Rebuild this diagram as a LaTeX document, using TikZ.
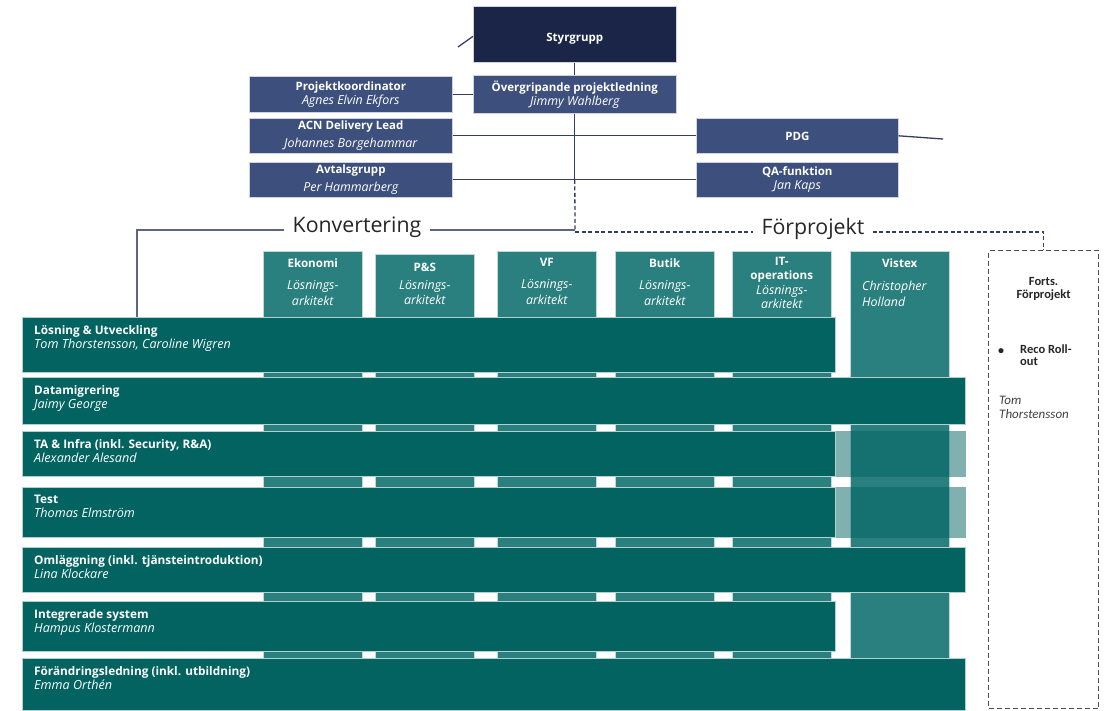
\documentclass[tikz,border=0pt]{standalone}
\usepackage{fontspec}
\setmainfont{Open Sans}
\newfontfamily\notefont{Carlito}
\usetikzlibrary{positioning}
\definecolor{styrnavy}{RGB}{27, 37, 71}
\definecolor{orgnavy}{RGB}{61, 79, 124}
\definecolor{rowteal}{RGB}{2, 99, 97}
\definecolor{colteal}{RGB}{42, 128, 126}
\definecolor{linenavy}{RGB}{52, 62, 96}
\newcommand{\pname}[1]{{\fontsize{12.4}{13}\selectfont\mdseries\itshape #1}}

\begin{document}
\begin{tikzpicture}[x=1pt, y=-1pt,
      orgbox/.style={fill=orgnavy, draw=white!75!orgnavy, line width=0.6pt,
                  minimum width=203pt, minimum height=36pt,
                  inner sep=0pt, anchor=north west, text=white, align=center,
                  font=\fontsize{11.5}{14}\selectfont\bfseries},
      colbox/.style={fill=colteal, draw=white!70!colteal, line width=0.5pt,
                  minimum width=99pt, inner sep=0pt, anchor=north west},
      rowbox/.style={fill=rowteal, draw=white!70!rowteal, line width=0.5pt,
                  inner sep=0pt, anchor=north west},
      coltxt/.style={text=white, align=center, inner sep=0pt, anchor=north,
                  font=\fontsize{11.6}{15.5}\selectfont\bfseries},
      rowtxt/.style={text=white, align=left, inner sep=0pt, anchor=north west,
                  font=\fontsize{11.8}{14}\selectfont\bfseries},
      notetxt/.style={inner sep=0pt, text=black!85, align=left, anchor=north west},
      orgline/.style={draw=linenavy, line width=1.3pt},
      orgdash/.style={draw=linenavy, line width=1.3pt, dash pattern=on 4pt off 2.5pt},
      phase/.style={fill=white, inner xsep=8pt, inner ysep=2pt, text=black!85,
                  font=\fontsize{21.3}{23}\selectfont},
    ]
    \useasboundingbox (0,0) rectangle (1107,710);

    %% top of the organisation
    \node[orgbox, fill=styrnavy, minimum height=56pt, text height=18pt, text depth=3pt]
      (styr) at (473,6) {Styrgrupp};
    \node[orgbox, minimum height=38pt] (overg) at (473,75)
      {Övergripande projektledning\\\pname{Jimmy Wahlberg}};
    \node[orgbox] (koord) at (249,76) {Projektkoordinator\\\pname{Agnes Elvin Ekfors}};
    \node[orgbox, minimum height=35pt] (acn) at (249,118)
      {ACN Delivery Lead\\[4pt]\pname{Johannes Borgehammar}};
    \node[orgbox, minimum height=35pt] (avtal) at (249,162)
      {Avtalsgrupp\\[4pt]\pname{Per Hammarberg}};
    \node[orgbox, minimum width=202pt, minimum height=35pt, text height=10pt, text depth=0pt]
      (pdg) at (696,118) {PDG};
    \node[orgbox, minimum width=202pt, minimum height=35pt] (qa) at (696,162)
      {QA-funktion\\\pname{Jan Kaps}};

    \coordinate (styrtail) at (458,47);
    \coordinate (pdgtail) at (943,139);
    \coordinate (split) at (575,230);
    \coordinate (splitr) at (575,232);
    \coordinate (konvcorner) at (137,230);

    \draw[orgline] (styr.south) -- (overg.north);
    \draw[orgline] (styrtail) -- ([yshift=-2pt]styr.west);
    \draw[orgline] (koord.east) -- (koord.east -| overg.west);
    \draw[orgline] (acn.east) -- (pdg.west);
    \draw[orgline] (avtal.east) -- (qa.west);
    \draw[orgline] (pdg.east) -- (pdgtail);
    \draw[orgline] (overg.south) -- (overg.south |- avtal.east);
    \draw[orgdash] (overg.south |- avtal.east) -- (splitr);

    %% columns (behind the rows)
    \node[colbox, minimum height=407pt] (eko) at (263,251) {};
    \node[colbox, minimum height=404pt] (ps) at (375,254) {};
    \node[colbox, minimum height=407pt] (vf) at (497,251) {};
    \node[colbox, minimum height=407pt] (butik) at (615,251) {};
    \node[colbox, minimum height=407pt] (itops) at (732,251) {};
    \node[colbox, minimum height=407pt] (vistex) at (850,251) {};

    \node[coltxt] at ([yshift=-7pt]eko.north) {Ekonomi\\[7pt]\pname{Lösnings-}\\\pname{arkitekt}};
    \node[coltxt] at ([yshift=-9pt]ps.north) {P\&S\\[2pt]\pname{Lösnings-}\\\pname{arkitekt}};
    \node[coltxt] at ([yshift=-7pt]vf.north) {VF\\[7pt]\pname{Lösnings-}\\\pname{arkitekt}};
    \node[coltxt] at ([yshift=-7pt]butik.north) {Butik\\[7pt]\pname{Lösnings-}\\\pname{arkitekt}};
    \node[coltxt, font=\fontsize{11.6}{14.3}\selectfont\bfseries] at ([yshift=-6pt]itops.north)
      {IT-\\operations\\\pname{Lösnings-}\\\pname{arkitekt}};
    \node[coltxt] at ([yshift=-7pt]vistex.north) {Vistex};
    \node[coltxt, anchor=north west, align=left] at ([xshift=12pt, yshift=-30pt]vistex.north west)
      {\pname{Christopher}\\\pname{Holland}};

    %% rows
    \foreach \r/\top/\h/\w/\title/\lead in {
        1/317/55/813/{Lösning \& Utveckling}/{Tom Thorstensson, Caroline Wigren},
        2/377/47/943/{Datamigrering}/{Jaimy George},
        3/431/45/813/{TA \& Infra (inkl. Security, R\&A)}/{Alexander Alesand},
        4/487/50/813/{Test}/{Thomas Elmström},
        5/547/45/943/{Omläggning (inkl. tjänsteintroduktion)}/{Lina Klockare},
        6/601/50/813/{Integrerade system}/{Hampus Klostermann},
        7/658/52/943/{Förändringsledning (inkl. utbildning)}/{Emma Orthén}}{
        \node[rowbox, minimum width=\w pt, minimum height=\h pt] (rad\r) at (22,\top) {};
        \node[rowtxt] at ([xshift=12pt, yshift=-8pt]rad\r.north west)
          {\title\\{\fontsize{12.6}{14}\selectfont\mdseries\itshape\lead}};
      }
    \fill[rowteal, opacity=0.5] (rad3.north east) rectangle ([xshift=130pt]rad3.south east);
    \fill[rowteal, opacity=0.5] (rad4.north east) rectangle ([xshift=130pt]rad4.south east);

    %% continued pre-project
    \node[draw=black!70, line width=1.2pt, dash pattern=on 5pt off 3pt,
          minimum width=110pt, minimum height=458pt, inner sep=0pt, anchor=north west]
          (forts) at (988,250) {};
    \node[notetxt, anchor=north, align=center, font=\notefont\fontsize{12.5}{13}\selectfont\bfseries]
          at ([yshift=-27pt]forts.north) {Forts.\\Förprojekt};
    \node[notetxt, anchor=west, font=\notefont\fontsize{12}{12}\selectfont\bfseries]
          (bullet) at (998,352) {•};
    \node[notetxt, font=\notefont\fontsize{12.5}{11.5}\selectfont\bfseries] at (1020,345) {Reco Roll-\\out};
    \node[notetxt, text=black!75, font=\notefont\fontsize{13}{14}\selectfont\itshape]
          at (999,396) {Tom\\Thorstensson};

    %% phase labels
    \node[phase] (konv) at (357,227) {Konvertering};
    \node[phase] (forp) at (813,229) {Förprojekt};
    \draw[orgline, draw=linenavy!80] (split) -- (split -| konv.east);
    \draw[orgline, draw=linenavy!80] (konvcorner -| konv.west) -- (konvcorner) -- (konvcorner |- rad1.north);
    \draw[orgdash] (splitr) -- (splitr -| forp.west);
    \draw[orgdash] (splitr -| forp.east) -- (splitr -| forts.north) -- (forts.north);
    \end{tikzpicture}
\end{document}
